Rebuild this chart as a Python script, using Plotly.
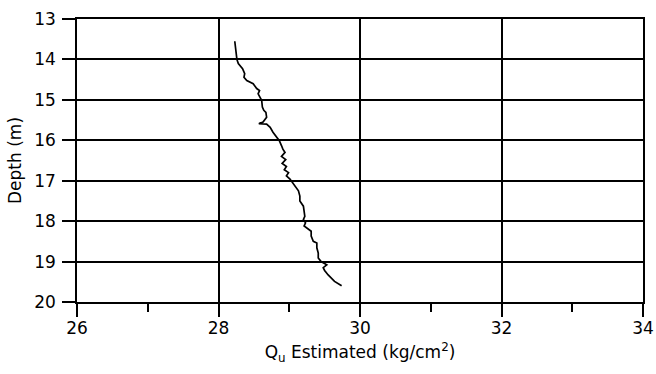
import plotly.graph_objects as go

qu_estimated = [28.23, 28.24, 28.26, 28.28, 28.34, 28.37, 28.36, 28.40, 28.49, 28.54,
                28.58, 28.56, 28.59, 28.61, 28.62, 28.64, 28.67, 28.68, 28.63, 28.57,
                28.68, 28.73, 28.77, 28.82, 28.86, 28.89, 28.91, 28.94, 28.89, 28.95,
                28.90, 28.96, 28.93, 28.99, 28.96, 29.01, 29.06, 29.10, 29.13, 29.15,
                29.15, 29.20, 29.21, 29.22, 29.20, 29.23, 29.21, 29.27, 29.31, 29.31,
                29.34, 29.39, 29.39, 29.41, 29.41, 29.45, 29.53, 29.48, 29.50, 29.55,
                29.60, 29.64, 29.74]
depth = [13.55, 13.72, 14.00, 14.10, 14.23, 14.35, 14.44, 14.52, 14.60, 14.72,
         14.77, 14.85, 14.93, 15.01, 15.18, 15.26, 15.31, 15.43, 15.55, 15.59,
         15.60, 15.68, 15.80, 15.93, 16.01, 16.13, 16.22, 16.30, 16.40, 16.48,
         16.57, 16.65, 16.73, 16.80, 16.88, 16.96, 17.09, 17.17, 17.25, 17.38,
         17.50, 17.63, 17.75, 17.88, 17.96, 18.04, 18.12, 18.21, 18.25, 18.37,
         18.50, 18.54, 18.66, 18.79, 18.91, 19.00, 19.08, 19.15, 19.22, 19.33,
         19.41, 19.49, 19.60]

x_ticks = [26, 28, 30, 32, 34]
y_ticks = [13, 14, 15, 16, 17, 18, 19, 20]

font = "DejaVu Sans, Liberation Sans, Arial, sans-serif"

fig = go.Figure()
fig.add_trace(go.Scatter(x=qu_estimated, y=depth, mode="lines",
                         line=dict(color="black", width=1.7), showlegend=False))

fig.update_layout(
    width=656, height=374,
    margin=dict(l=77, r=13, t=19, b=72),
    paper_bgcolor="white", plot_bgcolor="white",
    font=dict(family=font, size=17, color="black"),
)
fig.update_xaxes(
    range=[26, 34], tickvals=x_ticks, ticktext=[str(v) for v in x_ticks],
    automargin=False,
    showgrid=True, gridcolor="black", gridwidth=1.5,
    showline=True, linecolor="black", linewidth=1.5, mirror=True,
    ticks="outside", ticklen=13, tickwidth=1.5, tickcolor="black",
    ticklabelstandoff=-3,
    minor=dict(tickvals=[27, 29, 31, 33], ticks="outside", ticklen=8,
               tickwidth=1.5, tickcolor="black", showgrid=False),
    zeroline=False,
    title=dict(text="Q<sub>u</sub> Estimated (kg/cm<sup>2</sup>)", standoff=9,
               font=dict(size=17)),
)
fig.update_yaxes(
    range=[20, 13], tickvals=y_ticks, ticktext=[str(v) for v in y_ticks],
    automargin=False,
    showgrid=True, gridcolor="black", gridwidth=1.5,
    showline=True, linecolor="black", linewidth=1.5, mirror=True,
    ticks="outside", ticklen=13, tickwidth=1.5, tickcolor="black",
    ticklabelstandoff=3,
    zeroline=False,
    title=dict(text="Depth (m)", standoff=8, font=dict(size=17)),
)

fig.write_html("out.html")
